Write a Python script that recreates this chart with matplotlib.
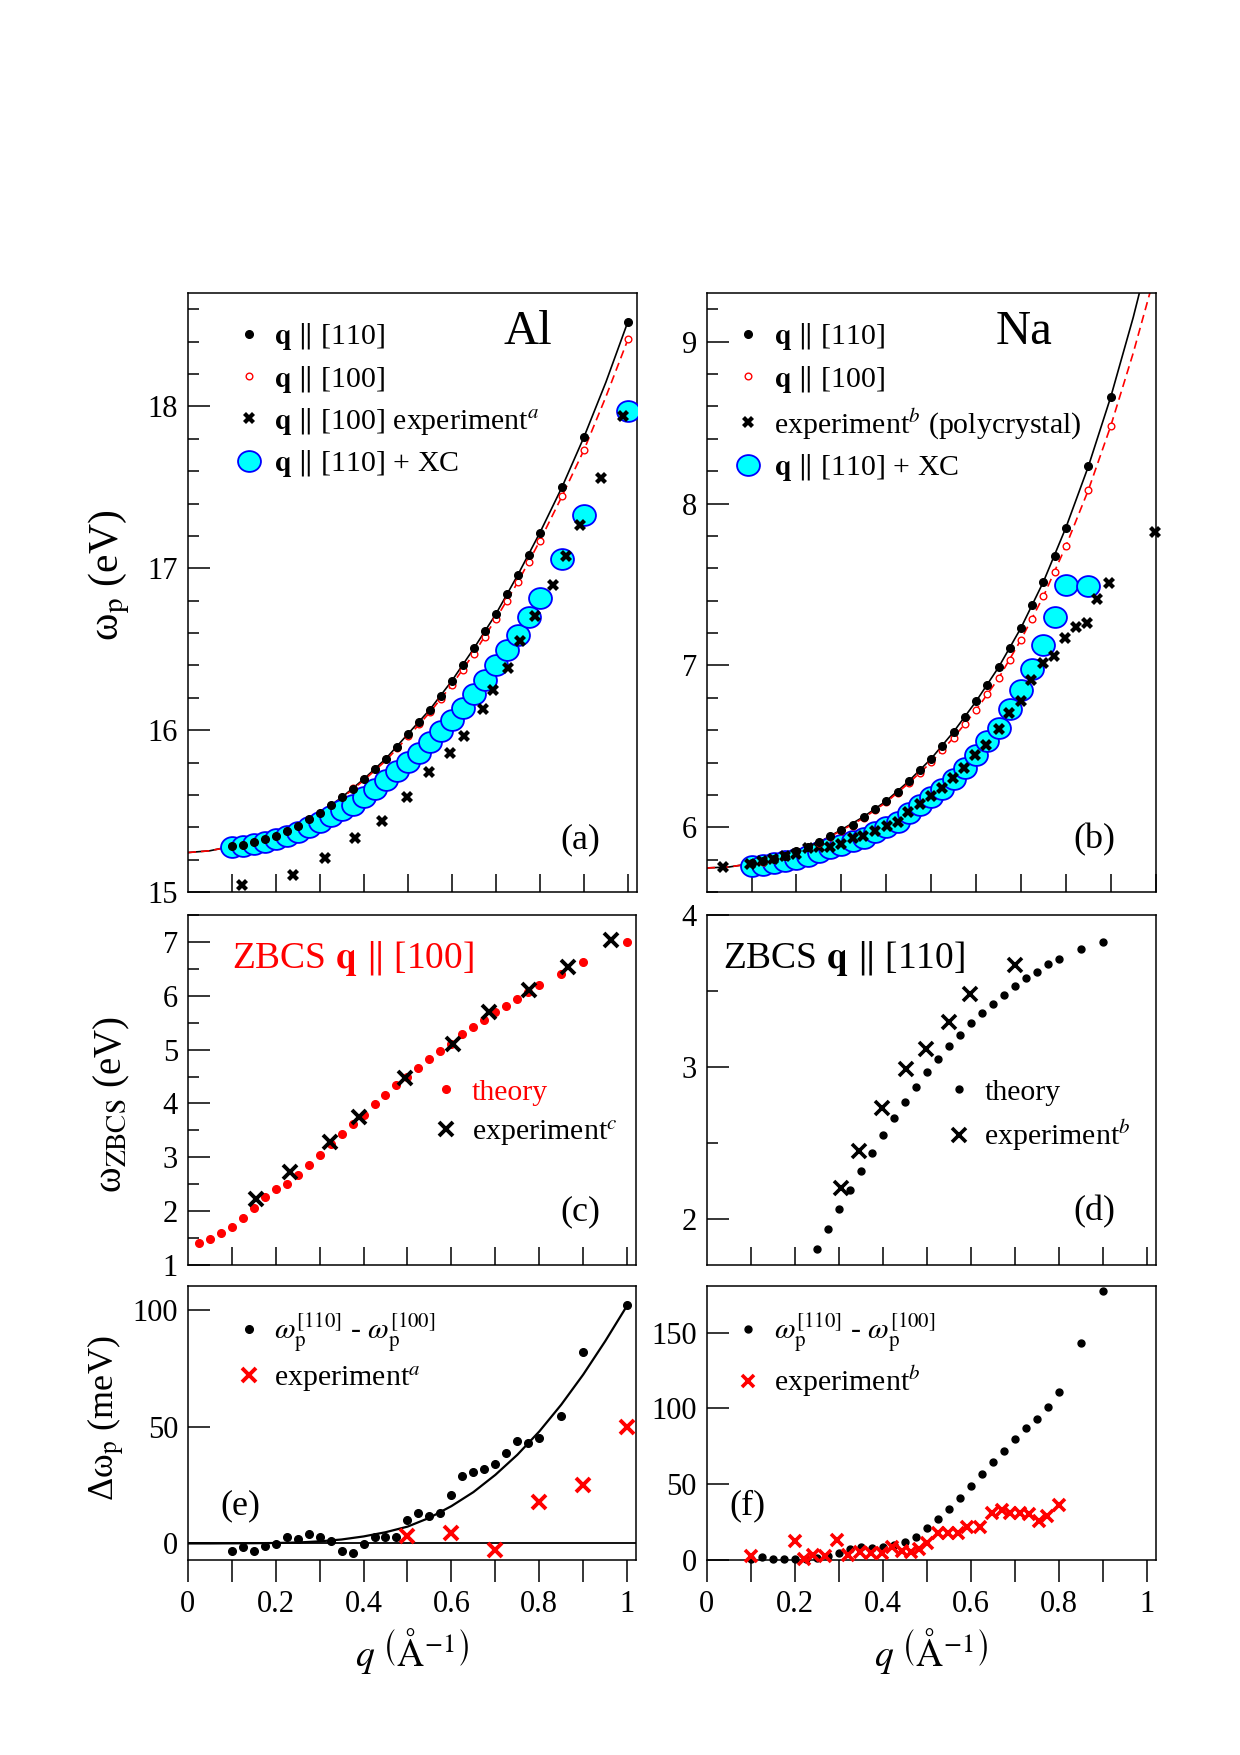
import numpy as np
import matplotlib.pyplot as plt
from matplotlib.markers import MarkerStyle
from matplotlib.transforms import Affine2D

plt.rcParams['font.family'] = ['Liberation Serif', 'DejaVu Serif']
plt.rcParams['mathtext.fontset'] = 'stix'

# ---------------- data ----------------
# (a) Al
q_a = [0.1, 0.125, 0.15, 0.175, 0.2, 0.225, 0.25, 0.275, 0.3, 0.325, 0.35, 0.375,
       0.4, 0.425, 0.45, 0.475, 0.5, 0.525, 0.55, 0.575, 0.6, 0.625, 0.65, 0.675,
       0.7, 0.725, 0.75, 0.775, 0.8, 0.85, 0.9, 1.0]
al_110 = [15.283, 15.293, 15.307, 15.325, 15.349, 15.378, 15.41, 15.449, 15.488, 15.537,
          15.585, 15.639, 15.698, 15.761, 15.824, 15.895, 15.976, 16.049, 16.127, 16.21,
          16.305, 16.40, 16.505, 16.61, 16.717, 16.84, 16.96, 17.085, 17.22, 17.50, 17.81, 18.524]
al_100 = [15.283, 15.293, 15.307, 15.325, 15.349, 15.378, 15.41, 15.449, 15.487, 15.536,
          15.586, 15.643, 15.698, 15.758, 15.821, 15.892, 15.966, 16.036, 16.115, 16.195,
          16.28, 16.373, 16.473, 16.573, 16.688, 16.797, 16.915, 17.04, 17.17, 17.444, 17.73, 18.414]
al_xc = [15.28, 15.285, 15.295, 15.31, 15.325, 15.345, 15.37, 15.40, 15.435, 15.47, 15.505,
         15.54, 15.585, 15.635, 15.69, 15.745, 15.805, 15.86, 15.925, 15.995, 16.06, 16.14,
         16.225, 16.31, 16.40, 16.495, 16.59, 16.70, 16.815, 17.06, 17.33, 17.97]
q_a_exp = [0.123, 0.238, 0.311, 0.380, 0.441, 0.498, 0.547, 0.596, 0.627, 0.670, 0.693,
           0.727, 0.755, 0.789, 0.829, 0.860, 0.890, 0.939, 0.988]
al_exp = [15.041, 15.105, 15.212, 15.334, 15.439, 15.59, 15.739, 15.861, 15.963, 16.13,
          16.249, 16.386, 16.549, 16.707, 16.898, 17.073, 17.268, 17.56, 17.939]
q_line = [0.0, 0.05, 0.1, 0.15, 0.2, 0.25, 0.3, 0.35, 0.4, 0.45, 0.5, 0.55, 0.6, 0.65,
          0.7, 0.75, 0.8, 0.85, 0.9, 0.95, 1.0]
al_line_110 = [15.244, 15.255, 15.283, 15.307, 15.349, 15.41, 15.488, 15.585, 15.698, 15.824,
               15.976, 16.127, 16.305, 16.505, 16.717, 16.96, 17.22, 17.50, 17.81, 18.15, 18.524]
al_line_100 = [15.244, 15.255, 15.282, 15.306, 15.347, 15.407, 15.485, 15.58, 15.69, 15.812,
               15.958, 16.11, 16.28, 16.473, 16.688, 16.915, 17.17, 17.444, 17.73, 18.06, 18.414]

# (b) Na
q_b = [0.1, 0.125, 0.15, 0.175, 0.2, 0.225, 0.25, 0.275, 0.3, 0.325, 0.35, 0.375,
       0.4, 0.425, 0.45, 0.475, 0.5, 0.525, 0.55, 0.575, 0.6, 0.625, 0.65, 0.675,
       0.7, 0.725, 0.75, 0.775, 0.8, 0.85, 0.9]
na_110 = [5.778, 5.790, 5.805, 5.825, 5.851, 5.878, 5.907, 5.944, 5.985, 6.017, 6.066, 6.115,
          6.163, 6.22, 6.285, 6.351, 6.424, 6.505, 6.59, 6.68, 6.778, 6.878, 6.988, 7.11,
          7.232, 7.371, 7.517, 7.676, 7.851, 8.229, 8.659]
na_100 = [5.777, 5.788, 5.805, 5.825, 5.851, 5.877, 5.906, 5.942, 5.98, 6.01, 6.058, 6.107,
          6.155, 6.21, 6.273, 6.336, 6.402, 6.478, 6.554, 6.639, 6.724, 6.822, 6.92, 7.034,
          7.159, 7.285, 7.427, 7.578, 7.737, 8.083, 8.48]
q_b_xc = [0.1, 0.125, 0.15, 0.175, 0.2, 0.225, 0.25, 0.275, 0.3, 0.325, 0.35, 0.375,
          0.4, 0.425, 0.45, 0.475, 0.5, 0.525, 0.55, 0.575, 0.6, 0.625, 0.65, 0.675,
          0.7, 0.725, 0.75, 0.775, 0.8, 0.85]
na_xc = [5.761, 5.768, 5.778, 5.793, 5.807, 5.822, 5.846, 5.871, 5.89, 5.915, 5.937, 5.968,
         6.005, 6.034, 6.09, 6.139, 6.188, 6.237, 6.298, 6.366, 6.444, 6.534, 6.615, 6.729,
         6.846, 6.98, 7.127, 7.298, 7.498, 7.493]
q_b_exp = [0.037, 0.097, 0.123, 0.148, 0.174, 0.2, 0.226, 0.25, 0.275, 0.3, 0.325, 0.349,
           0.375, 0.401, 0.425, 0.449, 0.475, 0.499, 0.525, 0.549, 0.573, 0.598, 0.622,
           0.65, 0.674, 0.70, 0.722, 0.748, 0.774, 0.798, 0.823, 0.846, 0.870, 0.897, 0.9985]
na_exp = [5.756, 5.773, 5.79, 5.805, 5.822, 5.834, 5.871, 5.876, 5.878, 5.895, 5.937, 5.944,
          5.976, 6.01, 6.034, 6.095, 6.144, 6.193, 6.241, 6.302, 6.366, 6.449, 6.51, 6.61,
          6.707, 6.778, 6.907, 7.012, 7.061, 7.168, 7.237, 7.261, 7.412, 7.512, 7.822]
na_line_110 = [5.749, 5.755, 5.776, 5.805, 5.851, 5.907, 5.985, 6.066, 6.163, 6.285, 6.424,
               6.59, 6.778, 6.988, 7.232, 7.517, 7.851, 8.229, 8.659, 9.15, 9.70]
na_line_100 = [5.749, 5.755, 5.776, 5.805, 5.851, 5.906, 5.98, 6.058, 6.155, 6.273, 6.402,
               6.554, 6.724, 6.92, 7.159, 7.427, 7.737, 8.083, 8.48, 8.93, 9.43]

# (c) ZBCS Al
q_c = [0.025, 0.05, 0.075, 0.1, 0.125, 0.15, 0.175, 0.2, 0.225, 0.25, 0.275, 0.3, 0.325,
       0.35, 0.375, 0.4, 0.425, 0.45, 0.475, 0.5, 0.525, 0.55, 0.575, 0.6, 0.625, 0.65,
       0.675, 0.7, 0.725, 0.75, 0.775, 0.8, 0.85, 0.9, 1.0]
zb_al = [1.403, 1.477, 1.589, 1.713, 1.88, 2.054, 2.259, 2.42, 2.507, 2.668, 2.86, 3.046,
         3.244, 3.43, 3.616, 3.79, 3.982, 4.156, 4.335, 4.49, 4.658, 4.819, 4.98, 5.11,
         5.284, 5.42, 5.557, 5.693, 5.817, 5.947, 6.065, 6.195, 6.412, 6.63, 7.0]
q_c_exp = [0.155, 0.233, 0.324, 0.39, 0.494, 0.603, 0.686, 0.777, 0.866, 0.962]
zb_al_exp = [2.228, 2.73, 3.288, 3.747, 4.472, 5.11, 5.699, 6.1, 6.535, 7.04]

# (d) ZBCS Na
q_d = [0.25, 0.275, 0.3, 0.325, 0.35, 0.375, 0.4, 0.425, 0.45, 0.475, 0.5, 0.525, 0.55,
       0.575, 0.6, 0.625, 0.65, 0.675, 0.7, 0.725, 0.75, 0.775, 0.8, 0.85, 0.9]
zb_na = [1.803, 1.934, 2.066, 2.193, 2.32, 2.439, 2.555, 2.664, 2.77, 2.868, 2.967, 3.053,
         3.14, 3.213, 3.289, 3.355, 3.417, 3.476, 3.535, 3.586, 3.629, 3.678, 3.713, 3.776, 3.82]
q_d_exp = [0.305, 0.347, 0.399, 0.452, 0.498, 0.551, 0.598, 0.701]
zb_na_exp = [2.204, 2.452, 2.73, 2.987, 3.118, 3.296, 3.48, 3.673]

# (e) anisotropy Al (meV)
dal = [-3.3, -1.4, -3.3, -1.1, -0.3, 2.9, 1.9, 3.9, 2.9, 1.1, -3.3, -4.3, -0.3, 2.9, 2.9,
       2.9, 10.0, 12.9, 11.7, 12.9, 20.7, 28.9, 30.7, 31.7, 33.9, 38.9, 43.9, 42.9, 45.0,
       54.7, 81.9, 102.1]
q_e_exp = [0.5, 0.6, 0.7, 0.8, 0.9, 1.0]
dal_exp = [3.3, 4.3, -2.6, 17.6, 25.0, 50.0]
dal_line = [0.0, 0.0, 0.05, 0.1, 0.2, 0.4, 0.9, 1.7, 3.0, 4.8, 7.2, 11.0, 16.0, 22.0,
            29.4, 38.0, 48.0, 59.5, 72.4, 86.7, 102.0]

# (f) anisotropy Na (meV)
dna = [1.0, 1.8, 0.7, 0.7, 0.6, 0.8, 1.5, 2.5, 4.8, 7.0, 8.4, 7.7, 8.4, 9.9, 12.1, 15.0,
       20.9, 26.9, 33.9, 40.7, 48.9, 56.8, 65.0, 72.0, 80.0, 87.0, 93.2, 101.3, 111.2,
       143.2, 177.3]
q_f_exp = [0.10, 0.20, 0.222, 0.242, 0.268, 0.295, 0.32, 0.348, 0.373, 0.398, 0.42, 0.443,
           0.464, 0.482, 0.50, 0.525, 0.548, 0.57, 0.592, 0.62, 0.648, 0.67, 0.69, 0.712,
           0.732, 0.754, 0.773, 0.80]
dna_exp = [2.6, 12.4, 0.5, 3.0, 2.5, 13.2, 3.0, 5.5, 4.6, 4.6, 8.4, 6.2, 5.5, 7.5, 11.5,
           17.6, 17.8, 17.8, 22.0, 21.6, 31.3, 33.0, 31.3, 31.3, 30.5, 26.0, 29.0, 36.3]

# ---------------- figure ----------------
fig = plt.figure(figsize=(12.4, 17.55), dpi=100)
ax_a = fig.add_axes([0.1514, 0.4917, 0.3621, 0.3413])
ax_b = fig.add_axes([0.5699, 0.4917, 0.3621, 0.3413])
ax_c = fig.add_axes([0.1514, 0.2792, 0.3615, 0.1994])
ax_d = fig.add_axes([0.5699, 0.2792, 0.3621, 0.1994])
ax_e = fig.add_axes([0.1514, 0.1111, 0.3615, 0.1561])
ax_f = fig.add_axes([0.5699, 0.1111, 0.3621, 0.1561])

LW = 1.1
TICKFS = 22
ell = MarkerStyle('o', transform=Affine2D().scale(1.1, 1.0))


def frame(ax, xmax, ylo, yhi, ymaj, ymin=None, bottom_labels=False):
    for sp in ax.spines.values():
        sp.set_linewidth(LW)
    ax.set_xlim(0, xmax)
    ax.set_ylim(ylo, yhi)
    ax.set_yticks(np.arange(np.ceil(ylo / ymaj) * ymaj, yhi + 1e-6, ymaj))
    if ymin:
        ax.set_yticks(np.arange(np.ceil(ylo / ymin) * ymin, yhi + 1e-6, ymin), minor=True)
    ax.tick_params(axis='y', which='major', direction='in', length=15.8, width=LW,
                   labelsize=TICKFS, pad=7)
    ax.tick_params(axis='y', which='minor', direction='in', length=8, width=LW)
    if bottom_labels:
        ax.set_xticks([0, 0.2, 0.4, 0.6, 0.8, 1.0])
        ax.set_xticklabels(['0', '0.2', '0.4', '0.6', '0.8', '1'])
        ax.set_xticks([0.1, 0.3, 0.5, 0.7, 0.9], minor=True)
        ax.tick_params(axis='x', which='both', direction='out', length=15.5, width=LW,
                       labelsize=TICKFS, pad=6)
    else:
        ax.set_xticks(np.arange(0.1, 1.01, 0.1))
        ax.tick_params(axis='x', which='both', direction='in', length=13, width=LW,
                       labelbottom=False)


leg_kw = dict(loc='upper left', frameon=False, borderaxespad=0, borderpad=0,
              handlelength=0.8, handletextpad=0.45, fontsize=21.5)

# (a)
frame(ax_a, 1.02, 15.0, 18.7, 1, 0.2)
ax_a.plot(q_line, al_line_110, '-', color='k', lw=1.2, zorder=2)
ax_a.plot(q_line, al_line_100, '--', color='red', lw=1.2, dashes=(5, 3), zorder=2)
h4 = ax_a.plot(q_a, al_xc, ls='none', marker=ell, ms=15, mfc='#00ffff', mec='#0000ff',
               mew=1.3, zorder=3, label=r'$\mathbf{q}\ \Vert\ $[110] + XC')[0]
h3 = ax_a.plot(q_a_exp, al_exp, ls='none', marker='X', ms=8.5, color='k', mew=0, zorder=4,
               label=r'$\mathbf{q}\ \Vert\ $[100] experiment$^{a}$')[0]
h2 = ax_a.plot(q_a, al_100, ls='none', marker='o', ms=4.8, mfc='white', mec='red', mew=1.0,
               zorder=5, label=r'$\mathbf{q}\ \Vert\ $[100]')[0]
h1 = ax_a.plot(q_a, al_110, ls='none', marker='o', ms=5.5, color='k', zorder=6,
               label=r'$\mathbf{q}\ \Vert\ $[110]')[0]
ax_a.legend(handles=[h1, h2, h3, h4], bbox_to_anchor=(0.11, 0.953), labelspacing=0.38,
            **leg_kw)
ax_a.text(0.758, 0.935, 'Al', fontsize=35, ha='center', va='center', transform=ax_a.transAxes)
ax_a.text(0.874, 0.088, '(a)', fontsize=26, ha='center', va='center', transform=ax_a.transAxes)

# (b)
frame(ax_b, 1.0, 5.6, 9.3, 1, 0.2)
ax_b.plot(q_line, na_line_110, '-', color='k', lw=1.2, zorder=2)
ax_b.plot(q_line, na_line_100, '--', color='red', lw=1.2, dashes=(5, 3), zorder=2)
g4 = ax_b.plot(q_b_xc, na_xc, ls='none', marker=ell, ms=15, mfc='#00ffff', mec='#0000ff',
               mew=1.3, zorder=3, label=r'$\mathbf{q}\ \Vert\ $[110] + XC')[0]
g3 = ax_b.plot(q_b_exp, na_exp, ls='none', marker='X', ms=8.5, color='k', mew=0, zorder=4,
               clip_on=False, label=r'experiment$^{b}$ (polycrystal)')[0]
g2 = ax_b.plot(q_b, na_100, ls='none', marker='o', ms=4.8, mfc='white', mec='red', mew=1.0,
               zorder=5, label=r'$\mathbf{q}\ \Vert\ $[100]')[0]
g1 = ax_b.plot(q_b, na_110, ls='none', marker='o', ms=5.5, color='k', zorder=6,
               label=r'$\mathbf{q}\ \Vert\ $[110]')[0]
ax_b.legend(handles=[g1, g2, g3, g4], bbox_to_anchor=(0.066, 0.953), labelspacing=0.38,
            **leg_kw)
ax_b.text(0.706, 0.935, 'Na', fontsize=35, ha='center', va='center', transform=ax_b.transAxes)
ax_b.text(0.864, 0.088, '(b)', fontsize=26, ha='center', va='center', transform=ax_b.transAxes)

# (c)
frame(ax_c, 1.02, 1.0, 7.5, 1, 0.5)
c1 = ax_c.plot(q_c, zb_al, ls='none', marker='o', ms=5.5, color='red', zorder=3,
               label='theory')[0]
c2 = ax_c.plot(q_c_exp, zb_al_exp, ls='none', marker='x', ms=10, mew=2.8, color='k',
               zorder=4, label=r'experiment$^{c}$')[0]
lc = ax_c.legend(handles=[c1, c2], bbox_to_anchor=(0.55, 0.532), labelspacing=0.42, **leg_kw)
lc.get_texts()[0].set_color('red')
ax_c.text(0.098, 0.875, r'ZBCS $\mathbf{q}\ \Vert\ $[100]', color='red', fontsize=27,
          ha='left', va='center', transform=ax_c.transAxes)
ax_c.text(0.875, 0.153, '(c)', fontsize=26, ha='center', va='center', transform=ax_c.transAxes)

# (d)
frame(ax_d, 1.02, 1.7, 4.0, 1, 0.5)
d1 = ax_d.plot(q_d, zb_na, ls='none', marker='o', ms=5, color='k', zorder=3,
               label='theory')[0]
d2 = ax_d.plot(q_d_exp, zb_na_exp, ls='none', marker='x', ms=10, mew=2.6, color='k',
               zorder=4, label=r'experiment$^{b}$')[0]
ax_d.legend(handles=[d1, d2], bbox_to_anchor=(0.535, 0.532), labelspacing=0.42, **leg_kw)
ax_d.text(0.037, 0.875, r'ZBCS $\mathbf{q}\ \Vert\ $[110]', color='k', fontsize=27,
          ha='left', va='center', transform=ax_d.transAxes)
ax_d.text(0.864, 0.153, '(d)', fontsize=26, ha='center', va='center', transform=ax_d.transAxes)

# (e)
frame(ax_e, 1.02, -7.1, 110.3, 50, None, bottom_labels=True)
ax_e.axhline(0, color='k', lw=1.3, zorder=2)
ax_e.plot(q_line, dal_line, '-', color='k', lw=1.6, zorder=2)
e1 = ax_e.plot(q_a, dal, ls='none', marker='o', ms=5.5, color='k', zorder=3,
               label=r'$\omega_{\rm p}^{[110]}$ - $\omega_{\rm p}^{[100]}$')[0]
e2 = ax_e.plot(q_e_exp, dal_exp, ls='none', marker='x', ms=10, mew=2.8, color='red',
               zorder=4, label=r'experiment$^{a}$')[0]
ax_e.legend(handles=[e1, e2], bbox_to_anchor=(0.11, 0.905), labelspacing=0.33, **leg_kw)
ax_e.text(0.118, 0.199, '(e)', fontsize=26, ha='center', va='center', transform=ax_e.transAxes)

# (f)
frame(ax_f, 1.02, 0.0, 180.8, 50, None, bottom_labels=True)
f1 = ax_f.plot(q_b, dna, ls='none', marker='o', ms=5, color='k', zorder=3, clip_on=False,
               label=r'$\omega_{\rm p}^{[110]}$ - $\omega_{\rm p}^{[100]}$')[0]
f2 = ax_f.plot(q_f_exp, dna_exp, ls='none', marker='x', ms=9, mew=2.6, color='red',
               zorder=4, clip_on=False, label=r'experiment$^{b}$')[0]
ax_f.legend(handles=[f1, f2], bbox_to_anchor=(0.066, 0.905), labelspacing=0.33, **leg_kw)
ax_f.text(0.091, 0.199, '(f)', fontsize=26, ha='center', va='center', transform=ax_f.transAxes)

# axis labels
fig.text(0.0885, 0.672, r'ω$_{\rm p}$ (eV)', rotation=90, fontsize=30, ha='center',
         va='center')
fig.text(0.090, 0.3706, r'ω$_{\rm ZBCS}$ (eV)', rotation=90, fontsize=28, ha='center',
         va='center')
fig.text(0.0855, 0.192, r'Δω$_{\rm p}$ (meV)', rotation=90, fontsize=26, ha='center',
         va='center')
for xc in (0.3322, 0.7510):
    fig.text(xc, 0.0593, r'$q\ \left(\mathrm{Å}^{-1}\right)$', fontsize=27, ha='center',
             va='center')

fig.savefig('out.png', dpi=100)
